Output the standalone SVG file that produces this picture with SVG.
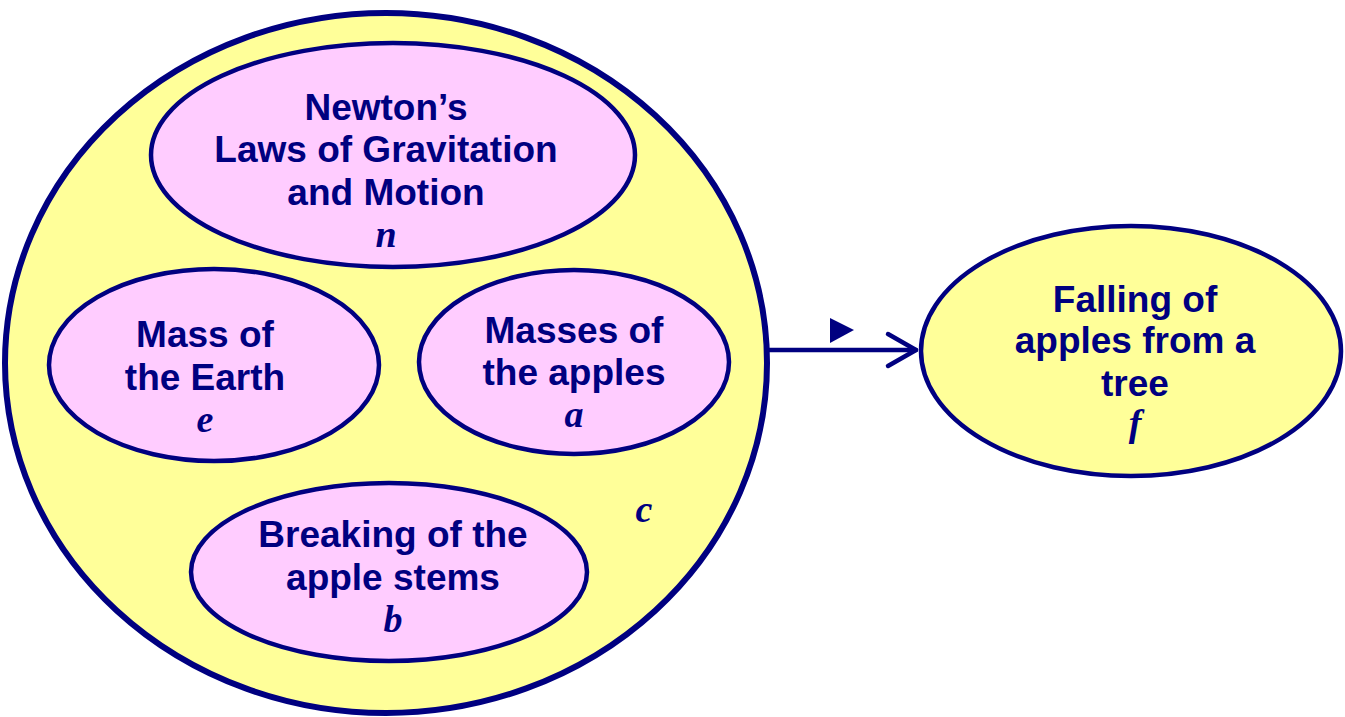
<svg xmlns="http://www.w3.org/2000/svg" width="1345" height="717" viewBox="0 0 1345 717">
<style>
.yel{fill:#FFFF99;stroke:#000080;}
.pink{fill:#FFCCFF;stroke:#000080;stroke-width:4.5;}
.t{font-family:"Liberation Sans",Arial,sans-serif;font-weight:bold;font-size:37px;fill:#000080;text-anchor:middle;}
.v{font-family:"Liberation Serif","Times New Roman",serif;font-weight:bold;font-style:italic;font-size:38px;fill:#000080;text-anchor:middle;}
.con{stroke:#000080;stroke-width:4.5;fill:none;stroke-linecap:round;stroke-linejoin:round;}
</style>
<rect width="1345" height="717" fill="#FFFFFF"/>
<g id="c">
<ellipse class="yel" cx="386" cy="363" rx="381" ry="350" stroke-width="6"/>
<text class="v" x="644" y="522">c</text>
</g>
<g id="n">
<ellipse class="pink" cx="393" cy="155" rx="242" ry="112"/>
<text class="t" x="386" y="120">Newton’s</text>
<text class="t" x="386" y="162">Laws of Gravitation</text>
<text class="t" x="386" y="205">and Motion</text>
<text class="v" x="386" y="247">n</text>
</g>
<g id="e">
<ellipse class="pink" cx="214" cy="365" rx="165" ry="96"/>
<text class="t" x="205" y="347">Mass of</text>
<text class="t" x="205" y="390">the Earth</text>
<text class="v" x="205" y="432">e</text>
</g>
<g id="a">
<ellipse class="pink" cx="574" cy="362" rx="155" ry="92"/>
<text class="t" x="574" y="343">Masses of</text>
<text class="t" x="574" y="385">the apples</text>
<text class="v" x="574" y="427">a</text>
</g>
<g id="b">
<ellipse class="pink" cx="389" cy="572" rx="198" ry="89"/>
<text class="t" x="393" y="547">Breaking of the</text>
<text class="t" x="393" y="590">apple stems</text>
<text class="v" x="393" y="632">b</text>
</g>
<g id="f">
<ellipse class="yel" cx="1131" cy="351" rx="210" ry="125" stroke-width="4.5"/>
<text class="t" x="1135" y="312">Falling of</text>
<text class="t" x="1135" y="353">apples from a</text>
<text class="t" x="1135" y="396">tree</text>
<text class="v" x="1135" y="436">f</text>
</g>
<g id="connectors">
<line class="con" x1="769" y1="350" x2="916" y2="350"/>
<polyline class="con" points="888,334 916,350 888,366"/>
<polygon points="830,318 854,330 830,343" fill="#000080"/>
</g>
</svg>
